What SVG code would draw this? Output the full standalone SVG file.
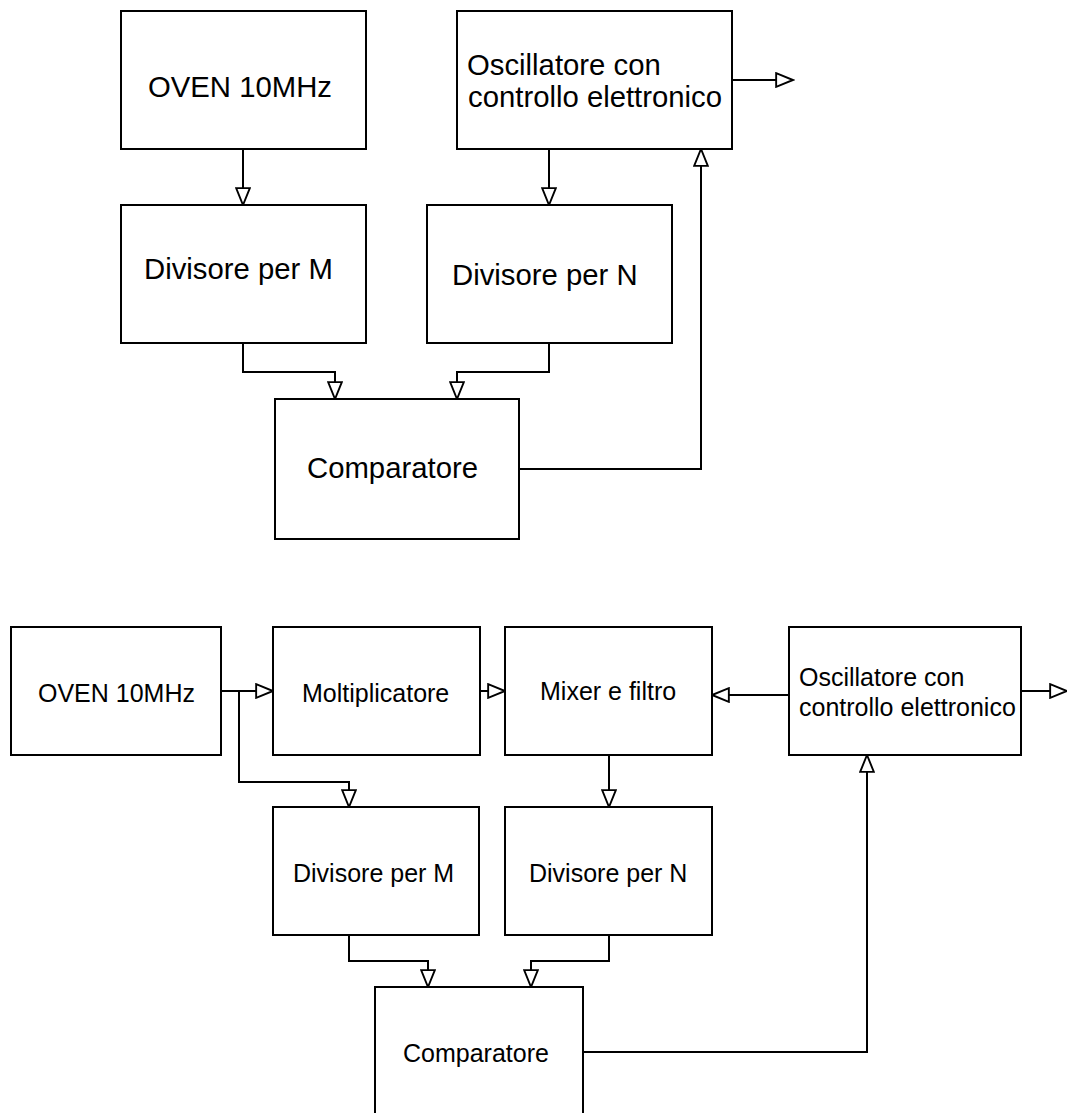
<svg xmlns="http://www.w3.org/2000/svg" width="1067" height="1113" viewBox="0 0 1067 1113">
<style>
.box{fill:#fff;stroke:#000;stroke-width:2}
.ln{fill:none;stroke:#000;stroke-width:2;marker-end:url(#ah)}
.t1{font-family:"Liberation Sans",Arial,sans-serif;font-size:29.3px;fill:#000}
.t2{font-family:"Liberation Sans",Arial,sans-serif;font-size:25px;fill:#000}
</style>
<defs>
<marker id="ah" markerUnits="userSpaceOnUse" markerWidth="20" markerHeight="16" viewBox="-1 -1 19 15" refX="16" refY="6.5" orient="auto">
<path d="M0,0 L16,6.5 L0,13 Z" fill="#fff" stroke="#000" stroke-width="1.8"/>
</marker>
</defs>
<rect width="1067" height="1113" fill="#fff"/>
<g id="connectors">
<path class="ln" d="M243,149 V205"/>
<path class="ln" d="M549,149 V205"/>
<path class="ln" d="M732,80 H793"/>
<path class="ln" d="M243,343 V372 H335 V399"/>
<path class="ln" d="M549,343 V372 H457 V399"/>
<path class="ln" d="M519,469 H701 V149"/>
<path class="ln" d="M221,691 H273"/>
<path class="ln" d="M239,691 V782 H349 V807"/>
<path class="ln" d="M480,691 H505"/>
<path class="ln" d="M789,695 H712"/>
<path class="ln" d="M1021,691 H1067"/>
<path class="ln" d="M609,755 V807"/>
<path class="ln" d="M349,935 V961 H428 V987"/>
<path class="ln" d="M609,935 V961 H531 V987"/>
<path class="ln" d="M583,1052 H867 V755"/>
</g>
<g id="top-oven"><rect class="box" x="121" y="11" width="245" height="138"/><text class="t1" x="148" y="97">OVEN 10MHz</text></g>
<g id="top-osc"><rect class="box" x="457" y="11" width="275" height="138"/><text class="t1" x="467" y="75">Oscillatore con</text><text class="t1" x="468" y="107">controllo elettronico</text></g>
<g id="top-divm"><rect class="box" x="121" y="205" width="245" height="138"/><text class="t1" x="144" y="279">Divisore per M</text></g>
<g id="top-divn"><rect class="box" x="427" y="205" width="245" height="138"/><text class="t1" x="452" y="285">Divisore per N</text></g>
<g id="top-comp"><rect class="box" x="275" y="399" width="244" height="140"/><text class="t1" x="307" y="478">Comparatore</text></g>
<g id="bot-oven"><rect class="box" x="11" y="627" width="210" height="128"/><text class="t2" x="38" y="702">OVEN 10MHz</text></g>
<g id="bot-molt"><rect class="box" x="273" y="627" width="207" height="128"/><text class="t2" x="302" y="702">Moltiplicatore</text></g>
<g id="bot-mixer"><rect class="box" x="505" y="627" width="207" height="128"/><text class="t2" x="540" y="700">Mixer e filtro</text></g>
<g id="bot-osc"><rect class="box" x="789" y="627" width="232" height="128"/><text class="t2" x="799" y="686">Oscillatore con</text><text class="t2" x="799" y="716">controllo elettronico</text></g>
<g id="bot-divm"><rect class="box" x="273" y="807" width="206" height="128"/><text class="t2" x="293" y="882">Divisore per M</text></g>
<g id="bot-divn"><rect class="box" x="505" y="807" width="207" height="128"/><text class="t2" x="529" y="882">Divisore per N</text></g>
<g id="bot-comp"><rect class="box" x="375" y="987" width="208" height="130"/><text class="t2" x="403" y="1062">Comparatore</text></g>
</svg>
